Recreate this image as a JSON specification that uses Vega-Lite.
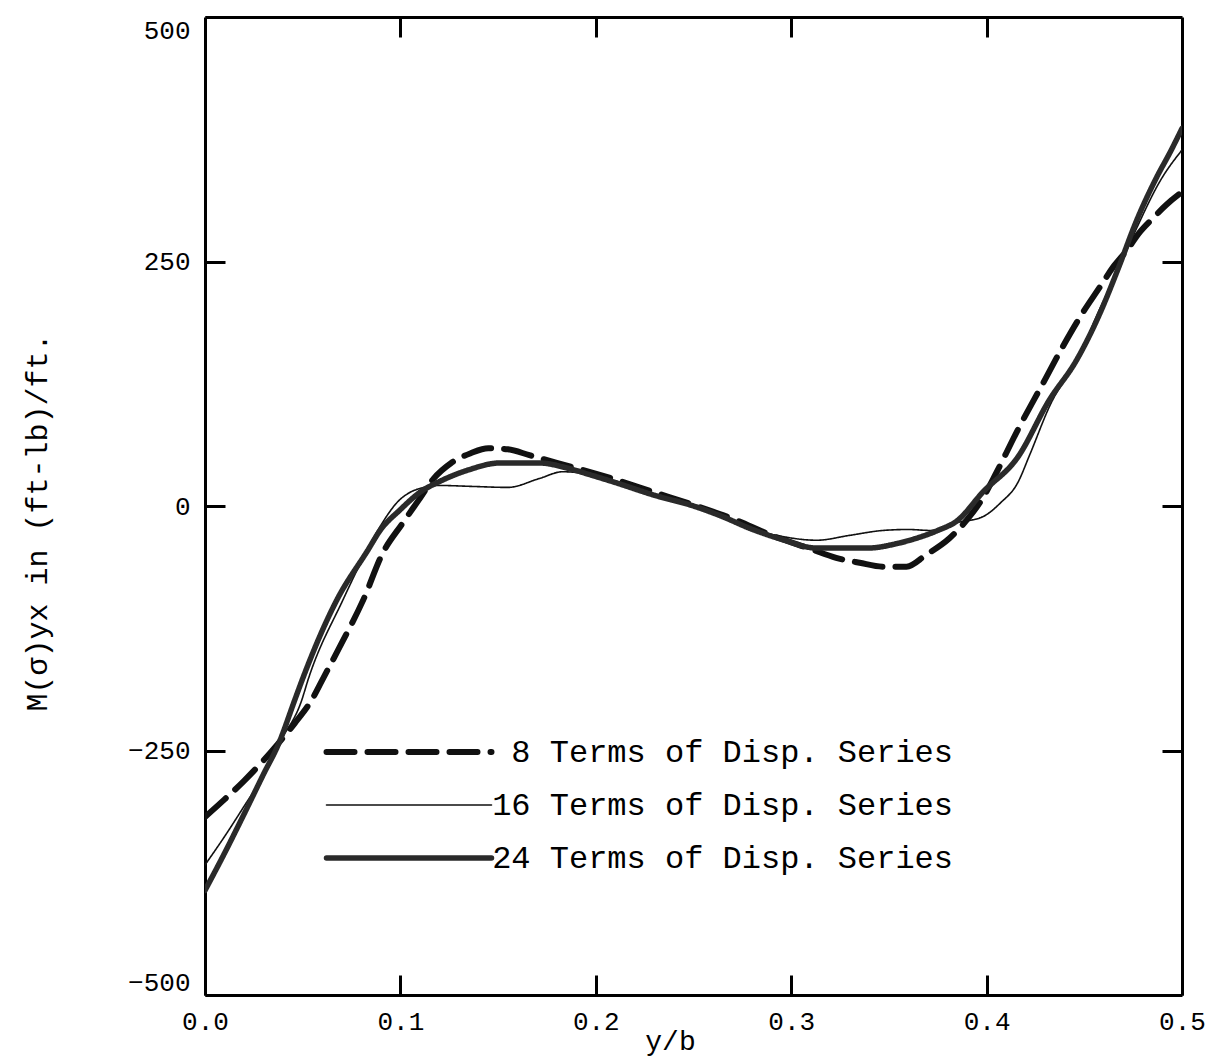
{
  "$schema": "https://vega.github.io/schema/vega-lite/v6.json",
  "width": 977,
  "height": 978,
  "autosize": {"type": "none"},
  "padding": {"left": 205, "top": 17, "right": 41, "bottom": 67},
  "background": "white",
  "config": {
    "view": {"stroke": null},
    "font": "Liberation Mono",
    "axis": {"labelFont": "Liberation Mono", "titleFont": "Liberation Mono", "labelColor": "black", "titleColor": "black", "titleFontWeight": "normal", "grid": false, "domainColor": "black", "domainWidth": 3, "tickColor": "black", "tickWidth": 3, "tickSize": -20}
  },
  "datasets": {
    "curves": [
      {"series": "8", "x": 0, "y": -318}, {"series": "8", "x": 0.01, "y": -300}, {"series": "8", "x": 0.02, "y": -281}, {"series": "8", "x": 0.03, "y": -260}, {"series": "8", "x": 0.037, "y": -244}, {"series": "8", "x": 0.046, "y": -222}, {"series": "8", "x": 0.0547, "y": -198}, {"series": "8", "x": 0.06, "y": -178}, {"series": "8", "x": 0.07, "y": -140}, {"series": "8", "x": 0.081, "y": -96}, {"series": "8", "x": 0.091, "y": -48}, {"series": "8", "x": 0.101, "y": -18}, {"series": "8", "x": 0.109, "y": 5}, {"series": "8", "x": 0.117, "y": 28}, {"series": "8", "x": 0.126, "y": 44}, {"series": "8", "x": 0.136, "y": 54}, {"series": "8", "x": 0.145, "y": 59}, {"series": "8", "x": 0.155, "y": 58}, {"series": "8", "x": 0.166, "y": 52}, {"series": "8", "x": 0.18, "y": 44}, {"series": "8", "x": 0.193, "y": 37}, {"series": "8", "x": 0.21, "y": 27}, {"series": "8", "x": 0.23, "y": 14}, {"series": "8", "x": 0.25, "y": 1}, {"series": "8", "x": 0.27, "y": -13}, {"series": "8", "x": 0.29, "y": -30}, {"series": "8", "x": 0.31, "y": -44}, {"series": "8", "x": 0.323, "y": -53}, {"series": "8", "x": 0.335, "y": -58}, {"series": "8", "x": 0.347, "y": -62}, {"series": "8", "x": 0.359, "y": -62}, {"series": "8", "x": 0.369, "y": -50}, {"series": "8", "x": 0.381, "y": -33}, {"series": "8", "x": 0.39, "y": -14}, {"series": "8", "x": 0.398, "y": 8}, {"series": "8", "x": 0.405, "y": 34}, {"series": "8", "x": 0.416, "y": 78}, {"series": "8", "x": 0.429, "y": 126}, {"series": "8", "x": 0.439, "y": 163}, {"series": "8", "x": 0.449, "y": 197}, {"series": "8", "x": 0.458, "y": 224}, {"series": "8", "x": 0.465, "y": 245}, {"series": "8", "x": 0.472, "y": 262}, {"series": "8", "x": 0.478, "y": 279}, {"series": "8", "x": 0.485, "y": 294}, {"series": "8", "x": 0.492, "y": 308}, {"series": "8", "x": 0.5, "y": 321},

      {"series": "16", "x": 0, "y": -367}, {"series": "16", "x": 0.01, "y": -338}, {"series": "16", "x": 0.02, "y": -307}, {"series": "16", "x": 0.03, "y": -275}, {"series": "16", "x": 0.0375, "y": -244}, {"series": "16", "x": 0.0496, "y": -198}, {"series": "16", "x": 0.0527, "y": -178}, {"series": "16", "x": 0.0706, "y": -96}, {"series": "16", "x": 0.083, "y": -45}, {"series": "16", "x": 0.0896, "y": -21}, {"series": "16", "x": 0.1, "y": 7}, {"series": "16", "x": 0.105, "y": 14}, {"series": "16", "x": 0.112, "y": 19}, {"series": "16", "x": 0.12, "y": 21}, {"series": "16", "x": 0.137, "y": 20}, {"series": "16", "x": 0.155, "y": 19}, {"series": "16", "x": 0.171, "y": 28}, {"series": "16", "x": 0.183, "y": 35}, {"series": "16", "x": 0.197, "y": 32}, {"series": "16", "x": 0.21, "y": 24}, {"series": "16", "x": 0.23, "y": 11}, {"series": "16", "x": 0.25, "y": 0}, {"series": "16", "x": 0.265, "y": -11}, {"series": "16", "x": 0.279, "y": -23}, {"series": "16", "x": 0.295, "y": -31}, {"series": "16", "x": 0.313, "y": -35}, {"series": "16", "x": 0.33, "y": -30}, {"series": "16", "x": 0.347, "y": -25}, {"series": "16", "x": 0.36, "y": -24}, {"series": "16", "x": 0.371, "y": -25}, {"series": "16", "x": 0.385, "y": -17}, {"series": "16", "x": 0.398, "y": -11}, {"series": "16", "x": 0.407, "y": 3}, {"series": "16", "x": 0.416, "y": 24}, {"series": "16", "x": 0.422, "y": 52}, {"series": "16", "x": 0.432, "y": 101}, {"series": "16", "x": 0.449, "y": 160}, {"series": "16", "x": 0.456, "y": 193}, {"series": "16", "x": 0.467, "y": 240}, {"series": "16", "x": 0.477, "y": 285}, {"series": "16", "x": 0.489, "y": 333}, {"series": "16", "x": 0.5, "y": 364},

      {"series": "24", "x": 0, "y": -393}, {"series": "24", "x": 0.01, "y": -355}, {"series": "24", "x": 0.02, "y": -315}, {"series": "24", "x": 0.03, "y": -274}, {"series": "24", "x": 0.0375, "y": -244}, {"series": "24", "x": 0.046, "y": -198}, {"series": "24", "x": 0.0497, "y": -178}, {"series": "24", "x": 0.0675, "y": -96}, {"series": "24", "x": 0.0834, "y": -45}, {"series": "24", "x": 0.0896, "y": -25}, {"series": "24", "x": 0.0998, "y": -4}, {"series": "24", "x": 0.11, "y": 14}, {"series": "24", "x": 0.12, "y": 25}, {"series": "24", "x": 0.135, "y": 37}, {"series": "24", "x": 0.151, "y": 44}, {"series": "24", "x": 0.171, "y": 44}, {"series": "24", "x": 0.185, "y": 39}, {"series": "24", "x": 0.197, "y": 32}, {"series": "24", "x": 0.21, "y": 24}, {"series": "24", "x": 0.23, "y": 11}, {"series": "24", "x": 0.25, "y": 0}, {"series": "24", "x": 0.265, "y": -11}, {"series": "24", "x": 0.279, "y": -23}, {"series": "24", "x": 0.295, "y": -34}, {"series": "24", "x": 0.313, "y": -43}, {"series": "24", "x": 0.339, "y": -43}, {"series": "24", "x": 0.355, "y": -38}, {"series": "24", "x": 0.364, "y": -33}, {"series": "24", "x": 0.375, "y": -25}, {"series": "24", "x": 0.385, "y": -15}, {"series": "24", "x": 0.398, "y": 14}, {"series": "24", "x": 0.416, "y": 50}, {"series": "24", "x": 0.432, "y": 108}, {"series": "24", "x": 0.446, "y": 149}, {"series": "24", "x": 0.458, "y": 197}, {"series": "24", "x": 0.467, "y": 241}, {"series": "24", "x": 0.477, "y": 293}, {"series": "24", "x": 0.487, "y": 336}, {"series": "24", "x": 0.494, "y": 362}, {"series": "24", "x": 0.5, "y": 386}
    ]
  },
  "data": {"name": "curves"},
  "resolve": {"axis": {"x": "independent", "y": "independent"}},
  "layer": [
    {
      "mark": {"type": "line", "interpolate": "monotone", "strokeCap": "round", "clip": true},
      "encoding": {
        "x": {"field": "x", "type": "quantitative", "scale": {"domain": [0, 0.5], "nice": false, "zero": false},
              "axis": {"orient": "bottom", "values": [0, 0.1, 0.2, 0.3, 0.4, 0.5], "format": ".1f", "labelFontSize": 26, "labelPadding": 33, "labelFlush": false, "title": "y/b", "titleFontSize": 28, "titleX": 465, "titleY": 46, "titleBaseline": "middle"}},
        "y": {"field": "y", "type": "quantitative", "scale": {"domain": [-500, 500], "nice": false},
              "axis": {"orient": "left", "values": [-500, -250, 0, 250, 500], "labelFontSize": 26, "labelPadding": 35, "labelFlush": true, "title": "M(σ)yx in (ft-lb)/ft.", "titleFontSize": 30, "titleX": -168, "titleY": 505, "titleAngle": -90, "titleBaseline": "middle", "titleAlign": "center"}},
        "stroke": {"field": "series", "type": "nominal", "scale": {"domain": ["8", "16", "24"], "range": ["#111111", "#111111", "#2a2a2a"]},
                   "legend": {"orient": "none", "legendX": 188, "legendY": 719, "title": null, "symbolType": "stroke", "symbolSize": 27225, "labelFont": "Liberation Mono", "labelFontSize": 32, "labelColor": "black", "labelAlign": "right", "labelOffset": 528, "rowPadding": 21, "labelLimit": 700,
                              "labelExpr": "datum.label + ' Terms of Disp. Series'",
                              "encode": {"symbols": {"update": {"strokeWidth": {"signal": "datum.value == '16' ? 1.6 : (datum.value == '8' ? 6 : 5.5)"}, "strokeCap": {"value": "round"}}}}}},
        "strokeDash": {"field": "series", "type": "nominal", "scale": {"domain": ["8", "16", "24"], "range": [[28, 13], [1, 0], [1, 0]]}},
        "strokeWidth": {"condition": [{"test": "datum.series == '16'", "value": 1.6}, {"test": "datum.series == '8'", "value": 6}], "value": 5.5}
      }
    },
    {
      "mark": {"type": "line", "opacity": 0},
      "encoding": {
        "x": {"field": "x", "type": "quantitative", "scale": {"domain": [0, 0.5], "nice": false, "zero": false},
              "axis": {"orient": "top", "values": [0.1, 0.2, 0.3, 0.4], "labels": false, "title": null}},
        "y": {"field": "y", "type": "quantitative", "scale": {"domain": [-500, 500], "nice": false},
              "axis": {"orient": "right", "values": [-250, 0, 250], "labels": false, "title": null}},
        "detail": {"field": "series", "type": "nominal"}
      }
    }
  ]
}
